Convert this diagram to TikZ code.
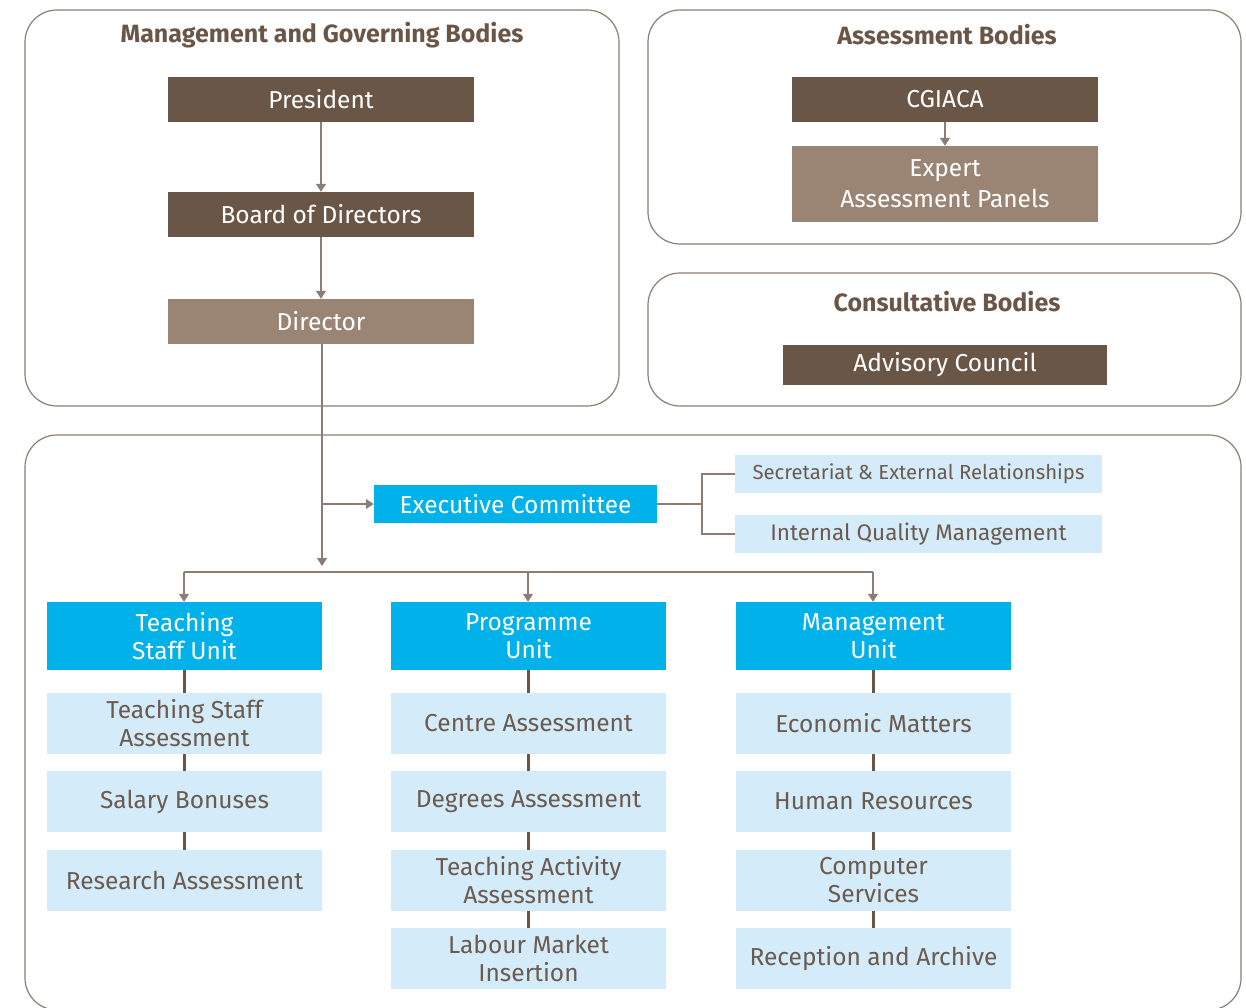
\documentclass[tikz,border=0pt]{standalone}
\usepackage{fontspec}
\setmainfont{Fira Sans}
\usetikzlibrary{arrows.meta}
\definecolor{dbrown}{HTML}{6A5646}
\definecolor{lbrown}{HTML}{9A8575}
\definecolor{lnbrown}{HTML}{8E7D72}
\definecolor{cyanb}{HTML}{00B2E9}
\definecolor{lblue}{HTML}{D4EBFA}
\definecolor{txtb}{HTML}{6B5A4E}
\begin{document}
\begin{tikzpicture}[x=1pt,y=-1pt,
  frame/.style={draw=lnbrown,line width=1.2pt,rounded corners=32pt},
  title/.style={font=\bfseries\fontsize{25}{27}\selectfont,text=dbrown},
  darkbox/.style={fill=dbrown,text=white,minimum width=306pt,minimum height=45pt,inner sep=0pt,align=center,font=\fontsize{24.5}{28}\selectfont},
  lightbox/.style={darkbox,fill=lbrown},
  cyanbox/.style={fill=cyanb,text=white,inner sep=0pt,align=center,font=\fontsize{24.5}{28.5}\selectfont},
  subbox/.style={fill=lblue,text=txtb,minimum width=275pt,minimum height=61pt,inner sep=0pt,align=center,font=\fontsize{24.5}{28}\selectfont},
  sidebox/.style={fill=lblue,text=txtb,minimum width=367pt,minimum height=38pt,inner sep=0pt,align=center,font=\fontsize{20.3}{24}\selectfont},
  arr/.style={draw=lnbrown,line width=1.3pt,-{Triangle[width=10pt,length=8pt]}},
  ln/.style={draw=lnbrown,line width=1.3pt},
  thk/.style={draw=dbrown,line width=3pt}]
\useasboundingbox (0,0) rectangle (1246,1008);
\clip (0,0) rectangle (1246,1008);
% frames
\draw[frame] (25,10) rectangle (619,406);
\draw[frame] (648,10) rectangle (1241,244);
\draw[frame] (648,273) rectangle (1241,406);
\draw[frame] (25,435) rectangle (1241,1010);
% titles
\node[title] (t1) at (322,35) {Management and Governing Bodies};
\node[title] (t2) at (947,35) {Assessment Bodies};
\node[title] (t3) at (947,302) {Consultative Bodies};
% management
\node[darkbox] (pres) at (321,99.5) {President};
\node[darkbox] (board) at (321,214.5) {Board of Directors};
\node[lightbox] (dir) at (321,321.5) {Director};
\draw[arr] (pres) -- (board);
\draw[arr] (board) -- (dir);
% assessment
\node[darkbox] (cgi) at (945,99.5) {CGIACA};
\node[lightbox,minimum height=76pt,font=\fontsize{24.5}{31}\selectfont] (exp) at (945,184) {Expert\\Assessment Panels};
\draw[arr] (cgi) -- (exp);
% consultative
\node[darkbox,minimum width=324pt,minimum height=40pt] (adv) at (945,365) {Advisory Council};
% executive
\node[cyanbox,minimum width=283pt,minimum height=38pt] (exec) at (515.5,504) {Executive Committee};
\node[sidebox] (sec) at (918.5,474) {Secretariat \& External Relationships};
\node[sidebox,font=\fontsize{22.5}{24}\selectfont] (iqm) at (918.5,534) {Internal Quality Management};
\coordinate (split) at (702,504);
\draw[ln] (exec.east) -- (split);
\draw[ln] (sec.west) -| (split) |- (iqm.west);
\coordinate (vbot) at (322,566);
\coordinate (branch) at (322,504);
\draw[arr] (dir.south -| branch) -- (vbot);
\draw[arr] (branch) -- (exec.west);
% bar
\coordinate (barL) at (184,572);
\coordinate (barR) at (873,572);
\draw[ln] (barL) -- (barR);
% units
\node[cyanbox,minimum width=275pt,minimum height=68pt] (u1) at (184.5,636) {Teaching\\Staff Unit};
\node[cyanbox,minimum width=275pt,minimum height=68pt] (u2) at (528.5,636) {Programme\\Unit};
\node[cyanbox,minimum width=275pt,minimum height=68pt] (u3) at (873.5,636) {Management\\Unit};
\draw[arr] (barL) -- (barL |- u1.north);
\draw[arr] (528,572) -- (u2.north -| 528,0);
\draw[arr] (barR) -- (barR |- u3.north);
% column 1
\node[subbox] (a1) at (184.5,723.5) {Teaching Staff\\Assessment};
\node[subbox] (a2) at (184.5,801.5) {Salary Bonuses};
\node[subbox] (a3) at (184.5,880.5) {Research Assessment};
% column 2
\node[subbox] (b1) at (528.5,723.5) {Centre Assessment};
\node[subbox] (b2) at (528.5,801.5) {Degrees Assessment};
\node[subbox] (b3) at (528.5,880.5) {Teaching Activity\\Assessment};
\node[subbox] (b4) at (528.5,958.5) {Labour Market\\Insertion};
% column 3
\node[subbox] (c1) at (873.5,723.5) {Economic Matters};
\node[subbox] (c2) at (873.5,801.5) {Human Resources};
\node[subbox] (c3) at (873.5,880.5) {Computer\\Services};
\node[subbox] (c4) at (873.5,958.5) {Reception and Archive};
% thick connectors
\draw[thk] (u1) -- (a1); \draw[thk] (a1) -- (a2); \draw[thk] (a2) -- (a3);
\draw[thk] (u2) -- (b1); \draw[thk] (b1) -- (b2); \draw[thk] (b2) -- (b3); \draw[thk] (b3) -- (b4);
\draw[thk] (u3) -- (c1); \draw[thk] (c1) -- (c2); \draw[thk] (c2) -- (c3); \draw[thk] (c3) -- (c4);
\end{tikzpicture}
\end{document}
